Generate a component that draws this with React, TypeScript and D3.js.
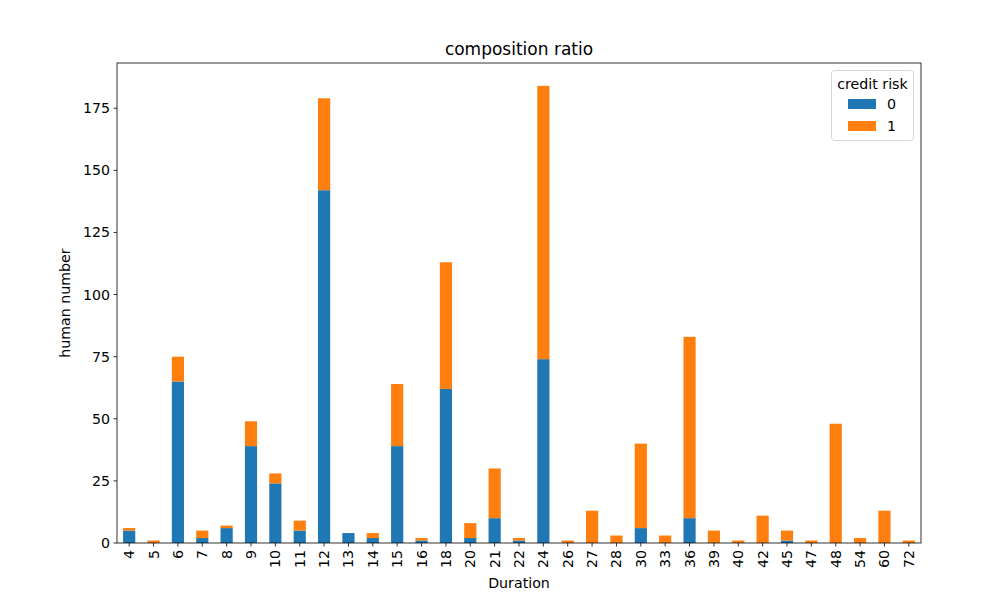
import React from "react";
import * as d3 from "d3";

const categories = ["4","5","6","7","8","9","10","11","12","13","14","15","16","18","20","21","22","24","26","27","28","30","33","36","39","40","42","45","47","48","54","60","72"];
const risk0 = [5,0,65,2,6,39,24,5,142,4,2,39,1,62,2,10,1,74,0,0,0,6,0,10,0,0,0,1,0,0,0,0,0];
const risk1 = [1,1,10,3,1,10,4,4,37,0,2,25,1,51,6,20,1,110,1,13,3,34,3,73,5,1,11,4,1,48,2,13,1];
const seriesNames = ["0", "1"];
const yTicks = [0,25,50,75,100,125,150,175];
const colors = ["#1f77b4", "#ff7f0e"];

const W = 982, H = 594;
const L = 117, R = 921, T = 63, B = 543;
const FONT = "DejaVu Sans, sans-serif";
const FS = 14.2;

export default function App() {
  const x = d3.scaleBand().domain(categories).range([L, R]).paddingInner(0.5).paddingOuter(0.25);
  const totals = categories.map((_, i) => risk0[i] + risk1[i]);
  const maxT = d3.max(totals) as number;
  const y = d3.scaleLinear().domain([0, maxT * 1.05]).range([B, T]);
  const rows = categories.map((c, i) => ({ c, a: risk0[i], b: risk1[i] }));
  const stack = d3.stack<any>().keys(["a", "b"])(rows);

  return (
    <svg width={W} height={H} style={{ position: "absolute", left: 0, top: 0, background: "#fff" }} fontFamily={FONT}>
      <rect x={0} y={0} width={W} height={H} fill="#fff" />
      {stack.map((layer, li) =>
        layer.map((d, i) => (
          <rect key={li + "-" + i} x={x(categories[i])} width={x.bandwidth()} y={y(d[1])} height={Math.max(0, y(d[0]) - y(d[1]))} fill={colors[li]} />
        ))
      )}
      <rect x={L} y={T} width={R - L} height={B - T} fill="none" stroke="#000" strokeWidth={0.8} />
      {yTicks.map((t) => (
        <g key={t}>
          <line x1={L - 3.5} x2={L} y1={y(t)} y2={y(t)} stroke="#000" strokeWidth={0.8} />
          <text x={L - 7} y={y(t)} dy="0.35em" textAnchor="end" fontSize={FS} fill="#000">{t}</text>
        </g>
      ))}
      {categories.map((c) => {
        const cx = (x(c) as number) + x.bandwidth() / 2;
        return (
          <g key={c}>
            <line x1={cx} x2={cx} y1={B} y2={B + 3.5} stroke="#000" strokeWidth={0.8} />
            <text transform={`translate(${cx},${B + 7}) rotate(-90)`} dy="0.35em" textAnchor="end" fontSize={FS} fill="#000">{c}</text>
          </g>
        );
      })}
      <text x={(L + R) / 2} y={55} textAnchor="middle" fontSize={17} fill="#000">composition ratio</text>
      <text x={(L + R) / 2} y={588} textAnchor="middle" fontSize={FS} fill="#000">Duration</text>
      <text transform={`translate(70,${(T + B) / 2}) rotate(-90)`} textAnchor="middle" fontSize={FS} fill="#000">human number</text>
      <g>
        <rect x={831.5} y={70.5} width={82} height={70} rx={3} fill="#fff" fillOpacity={0.8} stroke="#ccc" strokeWidth={0.8} />
        <text x={872.5} y={89} textAnchor="middle" fontSize={FS} fill="#000">credit risk</text>
        {seriesNames.map((s, i) => (
          <g key={s}>
            <rect x={848} y={99 + i * 22} width={28} height={10} fill={colors[i]} />
            <text x={887} y={104 + i * 22} dy="0.35em" fontSize={FS} fill="#000">{s}</text>
          </g>
        ))}
      </g>
    </svg>
  );
}
